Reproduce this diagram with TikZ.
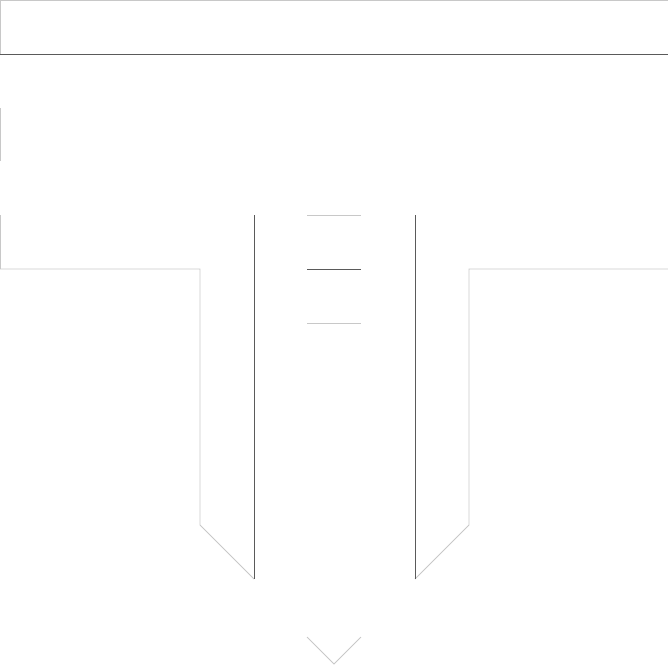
\documentclass[tikz,border=0pt]{standalone}
\tikzset{every picture/.style={line width=0.75pt}}

\begin{document}
\begin{tikzpicture}[x=1pt,y=1pt,yscale=-1,xscale=1]
\useasboundingbox (0,0) rectangle (668,665);

%Straight Lines [id:top]
\draw  [color={rgb, 255:red, 200; green, 200; blue, 200 }  ,draw opacity=1 ] (0,0.6) -- (668,0.6) ;
%Straight Lines [id:topleft]
\draw  [color={rgb, 255:red, 200; green, 200; blue, 200 }  ,draw opacity=1 ] (0.6,0) -- (0.6,54) ;
%Straight Lines [id:band]
\draw  [color={rgb, 255:red, 90; green, 90; blue, 90 }  ,draw opacity=1 ] (0,54) -- (668,54) ;
%Straight Lines [id:midleft]
\draw  [color={rgb, 255:red, 200; green, 200; blue, 200 }  ,draw opacity=1 ] (0.6,108) -- (0.6,161) ;

%Shape: Left flank
\draw  [color={rgb, 255:red, 200; green, 200; blue, 200 }  ,draw opacity=1 ] (0.6,215) -- (0.6,269) -- (200,269) -- (200,525) -- (254,579) ;
%Straight Lines [id:leftwall]
\draw  [color={rgb, 255:red, 90; green, 90; blue, 90 }  ,draw opacity=1 ] (254,215) -- (254,579) ;
%Shape: Right flank
\draw  [color={rgb, 255:red, 200; green, 200; blue, 200 }  ,draw opacity=1 ] (668,269) -- (469,269) -- (469,525) -- (415,579) ;
%Straight Lines [id:rightwall]
\draw  [color={rgb, 255:red, 90; green, 90; blue, 90 }  ,draw opacity=1 ] (415,215) -- (415,579) ;

%Straight Lines [id:rung1]
\draw  [color={rgb, 255:red, 200; green, 200; blue, 200 }  ,draw opacity=1 ] (307,215) -- (361,215) ;
%Straight Lines [id:rung2]
\draw  [color={rgb, 255:red, 90; green, 90; blue, 90 }  ,draw opacity=1 ] (307,269) -- (361,269) ;
%Straight Lines [id:rung3]
\draw  [color={rgb, 255:red, 200; green, 200; blue, 200 }  ,draw opacity=1 ] (307,323) -- (361,323) ;

%Shape: Chevron
\draw  [color={rgb, 255:red, 200; green, 200; blue, 200 }  ,draw opacity=1 ] (307,637) -- (334,664) -- (361,637) ;

\end{tikzpicture}
\end{document}
